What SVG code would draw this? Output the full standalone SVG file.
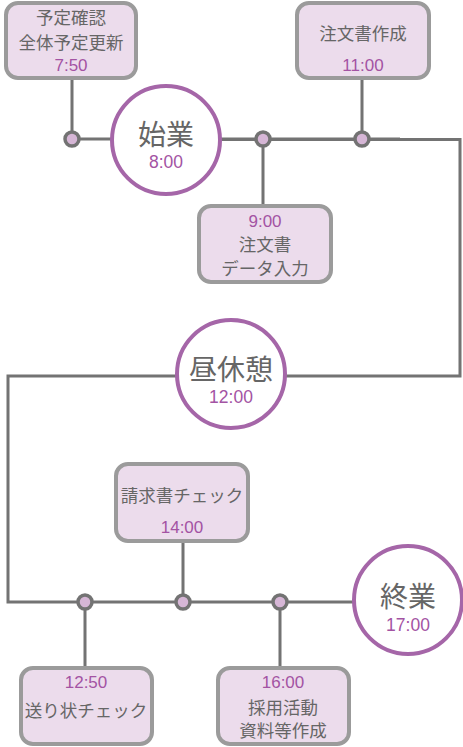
<svg xmlns="http://www.w3.org/2000/svg" width="463" height="747" viewBox="0 0 463 747">
<style>
.box{fill:#ecdcec;stroke:#9b9b9b;stroke-width:4}
.ln{fill:none;stroke:#737373;stroke-width:3}
.dot{fill:#d6b6d6;stroke:#737373;stroke-width:3.5}
.cir{fill:#fff;stroke:#a566a8;stroke-width:4}
.t{font-family:"Noto Sans CJK JP","Liberation Sans",sans-serif;fill:#666;font-size:17.5px;text-anchor:middle}
.tm{font-family:"Liberation Sans","Noto Sans CJK JP",sans-serif;fill:#a353a3;font-size:17px;text-anchor:middle}
.big{font-family:"Noto Sans CJK JP",sans-serif;fill:#666;font-size:28px;text-anchor:middle}
.bt{font-family:"Liberation Sans",sans-serif;fill:#a353a3;font-size:17.5px;text-anchor:middle}
</style>
<g id="connectors">
<path class="ln" d="M72 80V139H400"/>
<path class="ln" d="M222 139.5H460V376H8V602H400"/>
<path class="ln" d="M263 139V205M362 80V139M183 542V602M85 602V667M280 602V667"/>
</g>
<g id="n750"><rect class="box" x="6" y="3" width="130" height="75" rx="12"/>
<text class="t" x="71" y="24">予定確認</text><text class="t" x="71" y="49">全体予定更新</text><text class="tm" x="71" y="71">7:50</text></g>
<g id="n1100"><rect class="box" x="297" y="3" width="132" height="75" rx="12"/>
<text class="t" x="363" y="40">注文書作成</text><text class="tm" x="363" y="71">11:00</text></g>
<g id="n900"><rect class="box" x="199" y="206" width="132" height="76" rx="12"/>
<text class="tm" x="265" y="227">9:00</text><text class="t" x="265" y="251">注文書</text><text class="t" x="265" y="274.5">データ入力</text></g>
<g id="n1400"><rect class="box" x="116" y="464" width="132" height="77" rx="12"/>
<text class="t" x="182" y="502">請求書チェック</text><text class="tm" x="182" y="533">14:00</text></g>
<g id="n1250"><rect class="box" x="21" y="668" width="131" height="76" rx="12"/>
<text class="tm" x="86" y="688">12:50</text><text class="t" x="86" y="717">送り状チェック</text></g>
<g id="n1600"><rect class="box" x="218" y="668" width="131" height="76" rx="12"/>
<text class="tm" x="283" y="688">16:00</text><text class="t" x="283" y="714">採用活動</text><text class="t" x="283" y="737">資料等作成</text></g>
<g id="dots">
<circle class="dot" cx="72" cy="139" r="7"/><circle class="dot" cx="263" cy="139" r="7"/><circle class="dot" cx="362" cy="139" r="7"/>
<circle class="dot" cx="85" cy="602" r="7"/><circle class="dot" cx="183" cy="602" r="7"/><circle class="dot" cx="280" cy="602" r="7"/>
</g>
<g id="start"><circle class="cir" cx="166" cy="140" r="54"/><text class="big" x="166" y="145">始業</text><text class="bt" x="166" y="168">8:00</text></g>
<g id="lunch"><circle class="cir" cx="231" cy="374" r="54"/><text class="big" x="231" y="380">昼休憩</text><text class="bt" x="231" y="403">12:00</text></g>
<g id="end"><circle class="cir" cx="408" cy="600" r="54"/><text class="big" x="408" y="607">終業</text><text class="bt" x="408" y="631">17:00</text></g>
</svg>
